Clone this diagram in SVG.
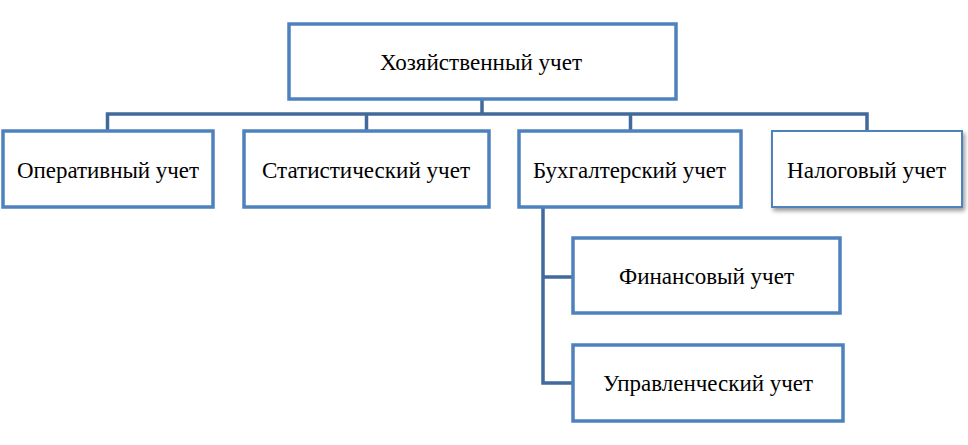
<svg xmlns="http://www.w3.org/2000/svg" width="968" height="445" viewBox="0 0 968 445">
<style>
.box{fill:#fff;stroke:#4F81BD;stroke-width:3.5}
.thin{fill:#fff;stroke:#4F81BD;stroke-width:2}
.lbl{font-family:'Liberation Serif','Times New Roman',serif;font-size:24px;fill:#000;text-anchor:middle}
.con{fill:none;stroke:#41699B;stroke-width:3.5;stroke-linejoin:miter}
</style>
<defs>
<filter id="sh" x="-10%" y="-10%" width="120%" height="130%">
<feGaussianBlur in="SourceAlpha" stdDeviation="2"/>
<feOffset dx="2" dy="3" result="b"/>
<feComponentTransfer><feFuncA type="linear" slope="0.4"/></feComponentTransfer>
<feMerge><feMergeNode/><feMergeNode in="SourceGraphic"/></feMerge>
</filter>
</defs>
<rect width="968" height="445" fill="#fff"/>
<g id="connectors">
<path class="con" d="M482,99 V114 M107.5,131 V114 H867 V131 M366.5,114 V131 M630.5,114 V131"/>
<path class="con" d="M543,207 V383 H573 M543,277 H573"/>
</g>
<g id="n-root"><rect class="box" x="289" y="24" width="387" height="75"/><text class="lbl" x="481" y="69.5" textLength="202" lengthAdjust="spacingAndGlyphs">Хозяйственный учет</text></g>
<g id="n-oper"><rect class="box" x="3" y="131" width="210" height="76"/><text class="lbl" x="108" y="178" textLength="182" lengthAdjust="spacingAndGlyphs">Оперативный учет</text></g>
<g id="n-stat"><rect class="box" x="244" y="131" width="245" height="76"/><text class="lbl" x="366" y="178" textLength="208" lengthAdjust="spacingAndGlyphs">Статистический учет</text></g>
<g id="n-buh"><rect class="box" x="519" y="131" width="222" height="76"/><text class="lbl" x="629.5" y="178" textLength="193" lengthAdjust="spacingAndGlyphs">Бухгалтерский учет</text></g>
<g id="n-nal"><rect class="thin" filter="url(#sh)" x="772" y="131" width="190" height="76"/><text class="lbl" x="866.5" y="178" textLength="159" lengthAdjust="spacingAndGlyphs">Налоговый учет</text></g>
<g id="n-fin"><rect class="box" x="573" y="238" width="267" height="75"/><text class="lbl" x="706.5" y="283.5" textLength="175" lengthAdjust="spacingAndGlyphs">Финансовый учет</text></g>
<g id="n-upr"><rect class="box" x="573" y="345" width="270" height="76"/><text class="lbl" x="708" y="391" textLength="210" lengthAdjust="spacingAndGlyphs">Управленческий учет</text></g>
</svg>
